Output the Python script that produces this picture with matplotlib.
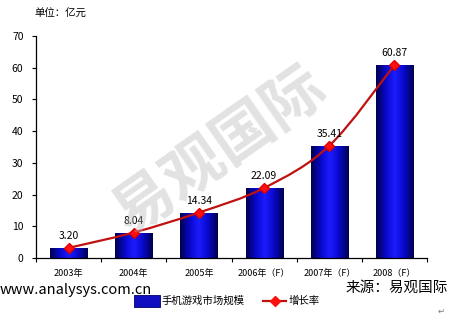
import numpy as np
import matplotlib.pyplot as plt
from matplotlib.path import Path
from matplotlib.patches import PathPatch, Rectangle
from matplotlib.colors import LinearSegmentedColormap

plt.rcParams['font.family'] = ['Noto Sans CJK SC', 'DejaVu Sans']

# data
years = ['2003年', '2004年', '2005年', '2006年（F）', '2007年（F）', '2008（F）']
market = [3.20, 8.04, 14.34, 22.09, 35.41, 60.87]
labels = ['3.20', '8.04', '14.34', '22.09', '35.41', '60.87']

fig = plt.figure(figsize=(4.5, 3.16), dpi=100)
ax = fig.add_axes([0.08, 0.1835, 0.869, 0.7025])

x = np.arange(len(years))
bw = 0.57
cmap = LinearSegmentedColormap.from_list('bar', ['#000050', '#0808c8', '#1c1cff', '#0808c8', '#000050'])
grad = np.linspace(0, 1, 64).reshape(1, -1)
bars = ax.bar(x, market, width=bw, color='none', edgecolor='none', zorder=2)
for b in bars:
    x0, y0 = b.get_x(), b.get_y()
    w, h = b.get_width(), b.get_height()
    im = ax.imshow(grad, cmap=cmap, aspect='auto', extent=[x0, x0 + w, y0, y0 + h], zorder=2)
    im.set_clip_path(b)

# smooth line through bar tops (Catmull-Rom style bezier)
pts = np.column_stack([x, market])
verts = [tuple(pts[0])]
codes = [Path.MOVETO]
for i in range(len(pts) - 1):
    p0 = pts[i - 1] if i > 0 else pts[i]
    p1, p2 = pts[i], pts[i + 1]
    p3 = pts[i + 2] if i + 2 < len(pts) else pts[i + 1]
    c1 = p1 + (p2 - p0) / 6
    c2 = p2 - (p3 - p1) / 6
    verts += [tuple(c1), tuple(c2), tuple(p2)]
    codes += [Path.CURVE4] * 3
ax.add_patch(PathPatch(Path(verts, codes), facecolor='none', edgecolor='#c01010', lw=1.6, zorder=3))
ax.plot(x, market, ls='none', marker='D', ms=5, color='#ff1010', mec='#e00000', zorder=4)

for xi, v, t in zip(x, market, labels):
    ax.text(xi, v + 2.2, t, ha='center', va='bottom', fontsize=7.5, color='black')

ax.set_xlim(-0.5, 5.5)
ax.set_ylim(0, 70)
ax.set_yticks(range(0, 71, 10))
ax.set_xticks(np.arange(-0.5, 6, 1))
ax.set_xticklabels([])
ax.set_xticks(x, minor=True)
ax.set_xticklabels(years, minor=True, fontsize=6.5)
ax.tick_params(axis='x', which='minor', length=0, pad=8)
ax.tick_params(axis='x', which='major', length=3, direction='out', width=0.8)
ax.tick_params(axis='y', length=3, direction='out', width=0.8, labelsize=7.5, pad=6)
for s in ['top', 'right']:
    ax.spines[s].set_visible(False)
for s in ['left', 'bottom']:
    ax.spines[s].set_linewidth(0.9)
ax.patch.set_alpha(0)

# watermark
fig.text(0.49, 0.52, '易观国际', fontsize=44, fontweight='bold', color='#b8b8b8', alpha=0.4,
         rotation=35, ha='center', va='center', zorder=5)

fig.text(0.077, 0.955, '单位：亿元', fontsize=7.5, ha='left', va='center')
fig.text(0.0, 0.083, 'www.analysys.com.cn', fontsize=10.5, ha='left', va='center')
fig.text(0.995, 0.088, '来源：易观国际', fontsize=10.5, ha='right', va='center')
fig.text(0.98, 0.015, '↵', fontsize=6, ha='center', va='center', color='#777777')

# legend
fig.patches.append(Rectangle((0.298, 0.030), 0.058, 0.038, transform=fig.transFigure,
                             facecolor='#1010c0', edgecolor='#000060', lw=0.6))
fig.text(0.36, 0.049, '手机游戏市场规模', fontsize=7.5, ha='left', va='center')
fig.lines.append(plt.Line2D([0.585, 0.636], [0.049, 0.049], transform=fig.transFigure,
                            color='#c01010', lw=1.6))
fig.lines.append(plt.Line2D([0.61], [0.049], transform=fig.transFigure, ls='none',
                            marker='D', ms=5, color='#ff1010'))
fig.text(0.642, 0.049, '增长率', fontsize=7.5, ha='left', va='center')

fig.savefig('out.png', dpi=100)
